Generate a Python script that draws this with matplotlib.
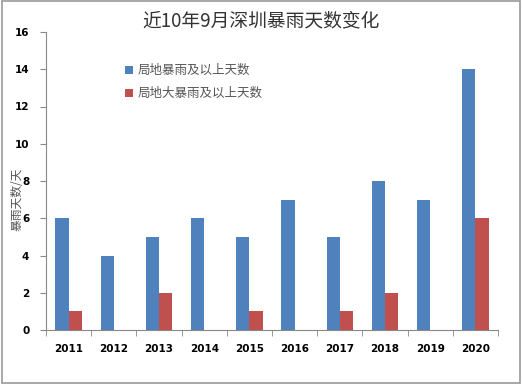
import matplotlib
matplotlib.use("Agg")
import matplotlib.pyplot as plt
import numpy as np

plt.rcParams['font.family'] = ['Noto Sans CJK SC', 'DejaVu Sans']

years = ['2011', '2012', '2013', '2014', '2015', '2016', '2017', '2018', '2019', '2020']
local_rain = [6, 4, 5, 6, 5, 7, 5, 8, 7, 14]
local_heavy = [1, 0, 2, 0, 1, 0, 1, 2, 0, 6]

fig = plt.figure(figsize=(5.22, 3.84), dpi=100)
ax = fig.add_axes([46/522, 1 - 330/384, 452/522, 298/384])

x = np.arange(len(years))
w = 0.29
ax.bar(x - w/2, local_rain, w, color='#4f81bd', label='局地暴雨及以上天数')
ax.bar(x + w/2, local_heavy, w, color='#c0504d', label='局地大暴雨及以上天数')

ax.set_xlim(-0.5, len(years) - 0.5)
ax.set_ylim(0, 16)
ax.set_yticks(range(0, 17, 2))
ax.set_xticks(x)
ax.set_xticklabels(years, fontsize=7.5, fontweight='bold', family='DejaVu Sans')
ax.set_xticks(np.arange(-0.5, len(years)), minor=True)
ax.tick_params(axis='x', which='major', length=0, pad=10)
ax.tick_params(axis='x', which='minor', length=4, color='#888888', direction='out')
ax.tick_params(axis='y', length=4, color='#888888', direction='out', pad=8)
for lbl in ax.get_yticklabels():
    lbl.set_fontsize(7.5)
    lbl.set_fontweight('bold')
    lbl.set_family('DejaVu Sans')

for s in ['top', 'right']:
    ax.spines[s].set_visible(False)
for s in ['left', 'bottom']:
    ax.spines[s].set_color('#888888')
    ax.spines[s].set_linewidth(0.8)

# y label placed in figure coords so it is not clipped
fig.text(17/522, 1 - 199/384, '暴雨天数/天', rotation=90, ha='center', va='center',
         fontsize=8.5, color='#555555')
fig.text(0.5, 1 - 21/384, '近10年9月深圳暴雨天数变化', ha='center', va='center',
         fontsize=13.5, color='#333333')

ax.legend(loc='upper left', bbox_to_anchor=(0.15, 0.93), frameon=False,
          fontsize=9, handlelength=0.6, handleheight=0.6, labelspacing=0.8,
          handletextpad=0.4, labelcolor='#555555')

fig.patches.append(plt.Rectangle((0.003, 0.003), 0.994, 0.994, transform=fig.transFigure,
                                 fill=False, edgecolor='#999999', linewidth=1.2))

fig.savefig('out.png', dpi=100)
